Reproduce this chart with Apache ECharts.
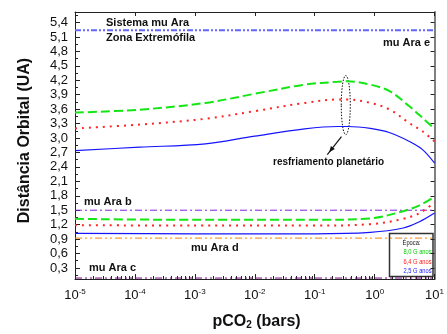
<!DOCTYPE html>
<html>
<head>
<meta charset="utf-8">
<script src="https://cdn.jsdelivr.net/npm/echarts@6/dist/echarts.min.js"></script>
<style>
  html, body { margin: 0; padding: 0; background: #fff; }
  #chart { width: 447px; height: 334px; }
</style>
</head>
<body>
<div id="chart"></div>
<script>
// Orbital distance of the habitable-zone outer edge (upper curves) and inner edge
// (lower curves) versus CO2 partial pressure, for three epochs of mu Ara.
const pco2Upper = [1e-5, 1.2e-4, 1.5e-3, 1e-2, 6.8e-2, 0.24, 0.35, 0.85, 1.8, 3.8, 6.3, 10];
const green8Upper = [3.53, 3.59, 3.73, 3.92, 4.11, 4.17, 4.18, 4.11, 3.97, 3.66, 3.42, 3.19];
const red64Upper = [3.20, 3.28, 3.40, 3.56, 3.73, 3.80, 3.80, 3.73, 3.59, 3.31, 3.14, 2.93];
const blue25Upper = [2.74, 2.81, 2.88, 3.04, 3.19, 3.24, 3.24, 3.20, 3.11, 2.93, 2.76, 2.48];

const pco2Lower = [1e-5, 1e-3, 1e-1, 0.85, 3.0, 5.6, 10];
const green8Lower = [1.32, 1.30, 1.30, 1.33, 1.48, 1.60, 1.78];
const red64Lower = [1.19, 1.18, 1.18, 1.21, 1.32, 1.44, 1.66];
const blue25Lower = [1.02, 1.01, 1.01, 1.04, 1.13, 1.26, 1.44];

// Semi-major axes of the planets (AU)
const planetNames = ['mu Ara e', 'mu Ara b', 'mu Ara d', 'mu Ara c'];
const planetAU = [5.24, 1.50, 0.92, 0.09];

const epochLabels = ['8,0 G anos', '6,4 G anos', '2,5 G anos'];

const yMajorTicks = [0.3, 0.6, 0.9, 1.2, 1.5, 1.8, 2.1, 2.4, 2.7, 3.0, 3.3, 3.6, 3.9, 4.2, 4.5, 4.8, 5.1, 5.4];
const yMinorTicks = [0.15, 0.45, 0.75, 1.05, 1.35, 1.65, 1.95, 2.25, 2.55, 2.85, 3.15, 3.45, 3.75, 4.05, 4.35, 4.65, 4.95, 5.25, 5.55];
const xDecades = [1e-5, 1e-4, 1e-3, 1e-2, 1e-1, 1, 10];

const Y_MIN = 0.07, Y_MAX = 5.62;
const FONT = '"Liberation Sans", Arial, Helvetica, sans-serif';

// log-scale minor ticks: 2..9 within each decade
const xMinorTicks = [];
for (let i = 0; i < xDecades.length - 1; i++) {
  for (let k = 2; k <= 9; k++) xMinorTicks.push(xDecades[i] * k);
}

const GREEN = '#14e614', RED = '#ff2424', BLUE = '#1414ff';
const AXIS = '#222';

function curve(name, xs, ys, color, type, width) {
  return {
    name, type: 'line', xAxisIndex: 0, yAxisIndex: 0,
    data: xs.map((x, i) => [x, ys[i]]),
    smooth: 0.35, symbol: 'none', silent: true,
    lineStyle: { color, type, width }
  };
}
function level(value, color, type, width) {
  return {
    type: 'line', xAxisIndex: 0, yAxisIndex: 0,
    data: [[xDecades[0], value], [xDecades[xDecades.length - 1], value]],
    symbol: 'none', silent: true,
    lineStyle: { color, type, width }
  };
}

const chart = echarts.init(document.getElementById('chart'), null, { renderer: 'canvas' });

const baseX = { type: 'log', logBase: 10, min: 1e-5, max: 10, splitLine: { show: false }, minorTick: { show: false } };
const baseY = { type: 'value', min: Y_MIN, max: Y_MAX, splitLine: { show: false } };

chart.setOption({
  animation: false,
  backgroundColor: '#fff',
  grid: { left: 75, right: 8, top: 12, bottom: 55 },
  xAxis: [
    Object.assign({}, baseX, {
      position: 'bottom',
      axisLine: { show: true, lineStyle: { color: AXIS, width: 1 } },
      axisTick: { show: true, inside: true, length: 5, customValues: xDecades, lineStyle: { color: AXIS } },
      axisLabel: {
        customValues: xDecades, margin: 9, color: '#111', fontFamily: FONT,
        formatter: v => '{b|10}{s|' + Math.round(Math.log10(v)) + '}',
        rich: {
          b: { fontSize: 13, fontFamily: FONT, color: '#111' },
          s: { fontSize: 8, fontFamily: FONT, color: '#111', verticalAlign: 'top', padding: [0, 0, 7, 0] }
        }
      }
    }),
    Object.assign({}, baseX, {
      position: 'bottom',
      axisLine: { show: false },
      axisTick: { show: true, inside: true, length: 3, customValues: xMinorTicks, lineStyle: { color: AXIS } },
      axisLabel: { show: false }
    }),
    Object.assign({}, baseX, {
      position: 'top',
      axisLine: { show: true, lineStyle: { color: AXIS, width: 1 } },
      axisTick: { show: true, inside: true, length: 4, customValues: xDecades, lineStyle: { color: AXIS } },
      axisLabel: { show: false }
    })
  ],
  yAxis: [
    Object.assign({}, baseY, {
      position: 'left',
      axisLine: { show: true, lineStyle: { color: AXIS, width: 1 } },
      axisTick: { show: true, inside: true, length: 5, customValues: yMajorTicks, lineStyle: { color: AXIS } },
      axisLabel: {
        customValues: yMajorTicks, margin: 7, fontSize: 13, color: '#111', fontFamily: FONT,
        formatter: v => v.toFixed(1).replace('.', ',')
      }
    }),
    Object.assign({}, baseY, {
      position: 'left',
      axisLine: { show: false },
      axisTick: { show: true, inside: true, length: 3, customValues: yMinorTicks, lineStyle: { color: AXIS } },
      axisLabel: { show: false }
    }),
    Object.assign({}, baseY, {
      position: 'right',
      axisLine: { show: true, lineStyle: { color: '#808080', width: 2 } },
      axisTick: { show: true, inside: true, length: 4, customValues: yMajorTicks, lineStyle: { color: AXIS } },
      axisLabel: { show: false }
    })
  ],
  series: [
    level(planetAU[0], '#6464ff', [6, 2, 2, 2, 2, 2], 2),
    level(planetAU[1], '#7f1fe0', [7, 3, 2, 3], 1),
    level(planetAU[2], '#ff8000', [7, 3, 2, 3, 2, 3], 1),
    level(planetAU[3], '#800080', [7, 3, 2, 3, 2, 3], 1),
    curve(epochLabels[0], pco2Upper, green8Upper, GREEN, [9, 4], 2),
    curve(epochLabels[1], pco2Upper, red64Upper, RED, [2, 5], 2),
    curve(epochLabels[2], pco2Upper, blue25Upper, BLUE, 'solid', 1.2),
    curve(epochLabels[0], pco2Lower, green8Lower, GREEN, [9, 4], 2),
    curve(epochLabels[1], pco2Lower, red64Lower, RED, [2, 5], 2),
    curve(epochLabels[2], pco2Lower, blue25Lower, BLUE, 'solid', 1.2)
  ]
});

// Annotation layer: axis titles, planet names, the cooling marker and the epoch box.
const ellC = chart.convertToPixel({ xAxisIndex: 0, yAxisIndex: 0 }, [0.33, 3.685]);
const ellTop = chart.convertToPixel({ xAxisIndex: 0, yAxisIndex: 0 }, [0.33, 4.30]);
const ellRy = ellC[1] - ellTop[1];
const ax0 = [ellC[0] - 4.3, ellC[1] + ellRy + 2], ax1 = [ellC[0] - 16.6, ellC[1] + ellRy + 17.5];
const ang = Math.atan2(ax1[1] - ax0[1], ax1[0] - ax0[0]);
const arrowHead = (len, w) => {
  const bx = ax1[0] - len * Math.cos(ang), by = ax1[1] - len * Math.sin(ang);
  const px = -Math.sin(ang) * w / 2, py = Math.cos(ang) * w / 2;
  return [ax1, [bx + px, by + py], [bx - px, by - py]];
};

const boldText = (text, x, y, size) => ({
  type: 'text', x, y, silent: true,
  style: { text, font: 'bold ' + size + 'px ' + FONT, fill: '#111', textVerticalAlign: 'middle' }
});
const keyText = (text, x, y, fill, align) => ({
  type: 'text', x, y, scaleX: 0.82, silent: true,
  style: { text, font: '7px ' + FONT, fill, textAlign: align || 'left', textVerticalAlign: 'middle' }
});

chart.setOption({
  graphic: [
    boldText('Sistema mu Ara', 106, 23, 11),
    boldText('Zona Extremófila', 106, 38, 11),
    boldText(planetNames[0], 383, 42.5, 11),
    boldText(planetNames[1], 84, 201.5, 11),
    boldText(planetNames[2], 191, 248.3, 11),
    boldText(planetNames[3], 89, 268.3, 11),
    boldText('resfriamento planetário', 273, 162.5, 10),
    {
      type: 'ellipse', silent: true,
      shape: { cx: ellC[0], cy: ellC[1], rx: 4.5, ry: ellRy },
      style: { fill: 'none', stroke: '#111', lineWidth: 1, lineDash: [1.5, 1.5] }
    },
    {
      type: 'line', silent: true,
      shape: { x1: ax0[0], y1: ax0[1], x2: ax1[0] + 3 * Math.cos(ang), y2: ax1[1] + 3 * Math.sin(ang) },
      style: { stroke: '#111', lineWidth: 1.2 }
    },
    {
      type: 'polygon', silent: true,
      shape: { points: arrowHead(6, 5) },
      style: { fill: '#111' }
    },
    {
      type: 'text', x: 25, y: 140.5, rotation: Math.PI / 2, silent: true,
      style: { text: 'Distância Orbital (UA)', font: 'bold 16px ' + FONT, fill: '#111', textAlign: 'center', textVerticalAlign: 'middle' }
    },
    {
      type: 'text', x: 256.5, y: 322, silent: true,
      style: {
        text: '{b|pCO}{u|2}{b| (bars)}', textAlign: 'center', textVerticalAlign: 'middle',
        rich: {
          b: { font: 'bold 16px ' + FONT, fill: '#111' },
          u: { font: 'bold 10px ' + FONT, fill: '#111', verticalAlign: 'bottom', padding: [6, 0, 0, 0] }
        }
      }
    },
    {
      type: 'rect', silent: true,
      shape: { x: 389.5, y: 233.5, width: 43.5, height: 43 },
      style: { fill: '#fff', stroke: '#333', lineWidth: 1.5 }
    },
    keyText('Época:', 411.5, 242.7, '#111', 'center'),
    keyText(epochLabels[0], 403.5, 252.3, '#00d000'),
    keyText(epochLabels[1], 403.5, 261.7, '#ff1a1a'),
    keyText(epochLabels[2], 403.5, 271, '#1a1aff')
  ]
});
</script>
</body>
</html>
